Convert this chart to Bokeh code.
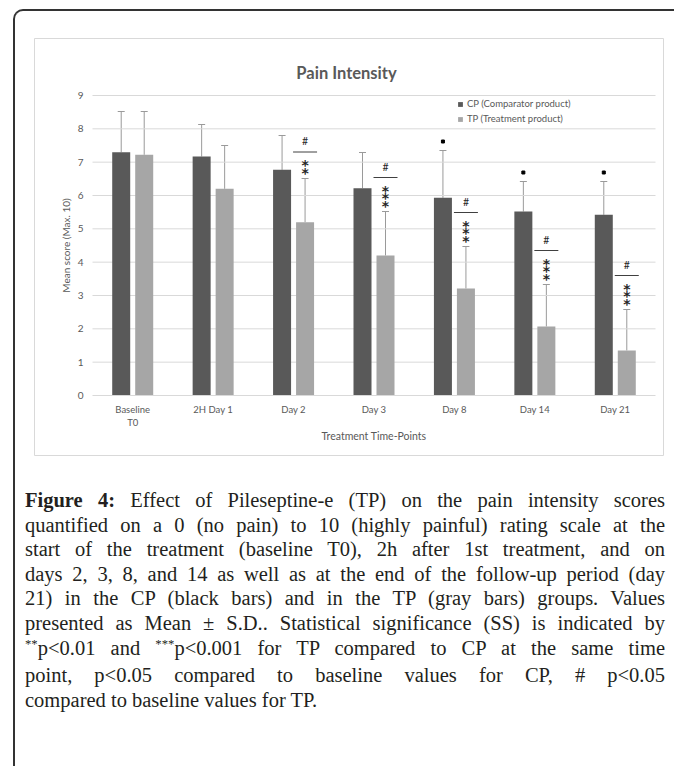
from bokeh.plotting import figure
from bokeh.models import (ColumnDataSource, Whisker, TeeHead, FixedTicker, Legend,
                          LegendItem, Label, Div, Range1d)
from bokeh.layouts import column
from bokeh.embed import file_html
from bokeh.resources import INLINE
from bokeh.core.properties import value

# ---------------- data ----------------
categories = ["Baseline\nT0", "2H Day 1", "Day 2", "Day 3", "Day 8", "Day 14", "Day 21"]
cp_mean = [7.30, 7.17, 6.77, 6.22, 5.93, 5.52, 5.42]
cp_sd = [1.22, 0.96, 1.03, 1.07, 1.42, 0.90, 1.00]
tp_mean = [7.22, 6.20, 5.20, 4.20, 3.21, 2.07, 1.35]
tp_sd = [1.30, 1.30, 1.31, 1.32, 1.26, 1.26, 1.23]
tp_stars = ["", "", "**", "***", "***", "***", "***"]
tp_hash = [False, False, True, True, True, True, True]
cp_dot = [False, False, False, False, True, True, True]
y_ticks = [0, 1, 2, 3, 4, 5, 6, 7, 8, 9]
series_names = ["CP (Comparator product)", "TP (Treatment product)"]
title_text = "Pain Intensity"
x_title = "Treatment Time-Points"
y_title = "Mean score (Max. 10)"
caption_bold = "Figure 4:"
SUP = '<span style="font-size:0.62em;position:relative;top:-0.5em;">%s</span>'
caption_lines = [
    " Effect of Pileseptine-e (TP) on the pain intensity scores",
    "quantified on a 0 (no pain) to 10 (highly painful) rating scale at the",
    "start of the treatment (baseline T0), 2h after 1st treatment, and on",
    "days 2, 3, 8, and 14 as well as at the end of the follow-up period (day",
    "21) in the CP (black bars) and in the TP (gray bars) groups. Values",
    "presented as Mean \u00b1 S.D.. Statistical significance (SS) is indicated by",
    (SUP % "**") + "p&lt;0.01 and " + (SUP % "***") + "p&lt;0.001 for TP compared to CP at the same time",
    "point, p&lt;0.05 compared to baseline values for CP, # p&lt;0.05",
    "compared to baseline values for TP.",
]

# ---------------- geometry (chart box = frame) ----------------
W, H = 630, 418
PL, PR, PT, PB = 58, 621, 57, 357          # plot-area edges inside the frame (px)
NCAT = len(categories)
YMAX = 9
ppx = (PR - PL) / NCAT
ppy = (PB - PT) / YMAX
x_start = -PL / ppx
x_end = NCAT + (W - PR) / ppx
y_end = YMAX + PT / ppy
y_start = -(H - PB) / ppy

def dx(px):
    return px / ppx

def dy(px):
    return px / ppy

def fx(px):  # frame px -> data x
    return x_start + px / ppx

def fy(py):  # frame px from top -> data y
    return y_end - py / ppy

FONT = "Lato"
TXT = "#595959"
CP_COL = "#595959"
TP_COL = "#a6a6a6"

p = figure(width=W, height=H, x_range=Range1d(x_start, x_end), y_range=Range1d(y_start, y_end),
           output_backend="svg", toolbar_location=None, min_border=0,
           outline_line_color="#d9d9d9", outline_line_width=1,
           background_fill_color="white", border_fill_color="white",
           margin=(27, 0, 0, 19))
p.xgrid.visible = False
p.ygrid.visible = False

centers = [i + 0.5 for i in range(NCAT)]
off = dx(11.5)
bw = dx(18)
x_cp = [c - off for c in centers]
x_tp = [c + off for c in centers]

# gridlines
p.segment(x0=[0] * (len(y_ticks) - 1), x1=[NCAT] * (len(y_ticks) - 1),
          y0=y_ticks[1:], y1=y_ticks[1:], line_color="#d9d9d9", line_width=1)

src = ColumnDataSource(dict(x_cp=x_cp, x_tp=x_tp, cp=cp_mean, tp=tp_mean,
                            cp_up=[m + s for m, s in zip(cp_mean, cp_sd)],
                            tp_up=[m + s for m, s in zip(tp_mean, tp_sd)]))
r_cp = p.vbar(x="x_cp", top="cp", width=bw, source=src, fill_color=CP_COL, line_color=None)
r_tp = p.vbar(x="x_tp", top="tp", width=bw, source=src, fill_color=TP_COL, line_color=None)

for xcol, ucol, lcol, colr in (("x_cp", "cp_up", "cp", "#9a9a9a"), ("x_tp", "tp_up", "tp", "#9a9a9a")):
    w = Whisker(base=xcol, upper=ucol, lower=lcol, source=src, line_color=colr, line_width=1,
                upper_head=TeeHead(size=7, line_color=colr, line_width=1), lower_head=None)
    p.add_layout(w)

# significance markers
sx, sy, hx, hy, lx0, lx1, ly = [], [], [], [], [], [], []
for i in range(NCAT):
    top = tp_mean[i] + tp_sd[i]
    n = len(tp_stars[i])
    for k in range(n):
        sx.append(x_tp[i])
        sy.append(top + dy(9 + 7.5 * k) - dy(3))
    if tp_hash[i]:
        lineh = top + dy(9 + 7.5 * max(n - 1, 0) + 10)
        lx0.append(x_tp[i] - dx(12)); lx1.append(x_tp[i] + dx(12)); ly.append(lineh)
        hx.append(x_tp[i]); hy.append(lineh + dy(11))
p.text(x=sx, y=sy, text=["*"] * len(sx), text_font=value("DejaVu Sans"), text_font_style="bold",
       text_font_size="14px", text_align="center", text_baseline="middle", text_color="#262626")
p.segment(x0=lx0, x1=lx1, y0=ly, y1=ly, line_color="#404040", line_width=1)
p.text(x=hx, y=hy, text=["#"] * len(hx), text_font=value(FONT),
       text_font_size="10.5px", text_align="center", text_baseline="middle", text_color="#262626")
dxs = [x_cp[i] for i in range(NCAT) if cp_dot[i]]
dys = [cp_mean[i] + cp_sd[i] + dy(9) for i in range(NCAT) if cp_dot[i]]
p.scatter(x=dxs, y=dys, marker="square", size=3, fill_color="black", line_color="black")

# axes
xa = p.xaxis[0]
xa.fixed_location = 0
xa.bounds = (0, NCAT)
xa.ticker = FixedTicker(ticks=centers)
xa.major_label_overrides = {c: lab for c, lab in zip(centers, categories)}
xa.axis_line_color = "#d9d9d9"
xa.major_tick_line_color = None
xa.minor_tick_line_color = None
xa.major_tick_out = 0
xa.minor_tick_out = 0
xa.major_label_standoff = 8
xa.major_label_text_font = FONT
xa.major_label_text_font_size = "9.5px"
xa.major_label_text_color = TXT
xa.axis_label = x_title
xa.axis_label_text_font = FONT
xa.axis_label_text_font_size = "10.5px"
xa.axis_label_text_font_style = "normal"
xa.axis_label_text_color = TXT
xa.axis_label_standoff = -1

ya = p.yaxis[0]
ya.fixed_location = 0
ya.bounds = (0, YMAX)
ya.ticker = FixedTicker(ticks=y_ticks)
ya.axis_line_color = None
ya.major_tick_line_color = None
ya.minor_tick_line_color = None
ya.major_tick_out = 0
ya.minor_tick_out = 0
ya.major_label_standoff = 9
ya.major_label_text_font = FONT
ya.major_label_text_font_size = "10px"
ya.major_label_text_color = TXT
ya.axis_label = y_title
ya.axis_label_text_font = FONT
ya.axis_label_text_font_size = "10px"
ya.axis_label_text_font_style = "normal"
ya.axis_label_text_color = TXT
ya.axis_label_standoff = 3

# title
p.add_layout(Label(x=fx(312), y=fy(34), text=title_text, text_font=FONT, text_font_style="bold",
                   text_font_size="16.5px", text_color=TXT, text_align="center",
                   text_baseline="middle"))

# legend
legend = Legend(items=[LegendItem(label=series_names[0], renderers=[r_cp]),
                       LegendItem(label=series_names[1], renderers=[r_tp])],
                location=(423, H - 86), orientation="vertical", glyph_width=6, glyph_height=6,
                label_height=10, spacing=4, padding=0, margin=0, label_standoff=4,
                border_line_color=None, background_fill_alpha=0,
                label_text_font=FONT, label_text_font_size="9.5px", label_text_color=TXT)
p.add_layout(legend)

# caption
rows = []
for i, line in enumerate(caption_lines):
    txt = ("<b>" + caption_bold + "</b>" + line) if i == 0 else line
    if i < len(caption_lines) - 1:
        style = "text-align:justify;text-align-last:justify;white-space:nowrap;"
    else:
        style = "text-align:left;white-space:nowrap;"
    rows.append('<div style="%s">%s</div>' % (style, txt))
html = ('<div style="font-family:\'Liberation Serif\',serif;font-size:20.5px;line-height:24.6px;'
        'color:#231f20;width:640px;">' + "".join(rows) + "</div>")
cap = Div(text=html, width=640, height=278, margin=(32, 0, 0, 10))

root = column(p, cap, margin=(9, 0, 0, 13), width=661,
              styles={"border-left": "2px solid #333333", "border-top": "2px solid #333333",
                      "border-top-left-radius": "10px"})

open("out.html", "w").write(file_html(root, INLINE))
